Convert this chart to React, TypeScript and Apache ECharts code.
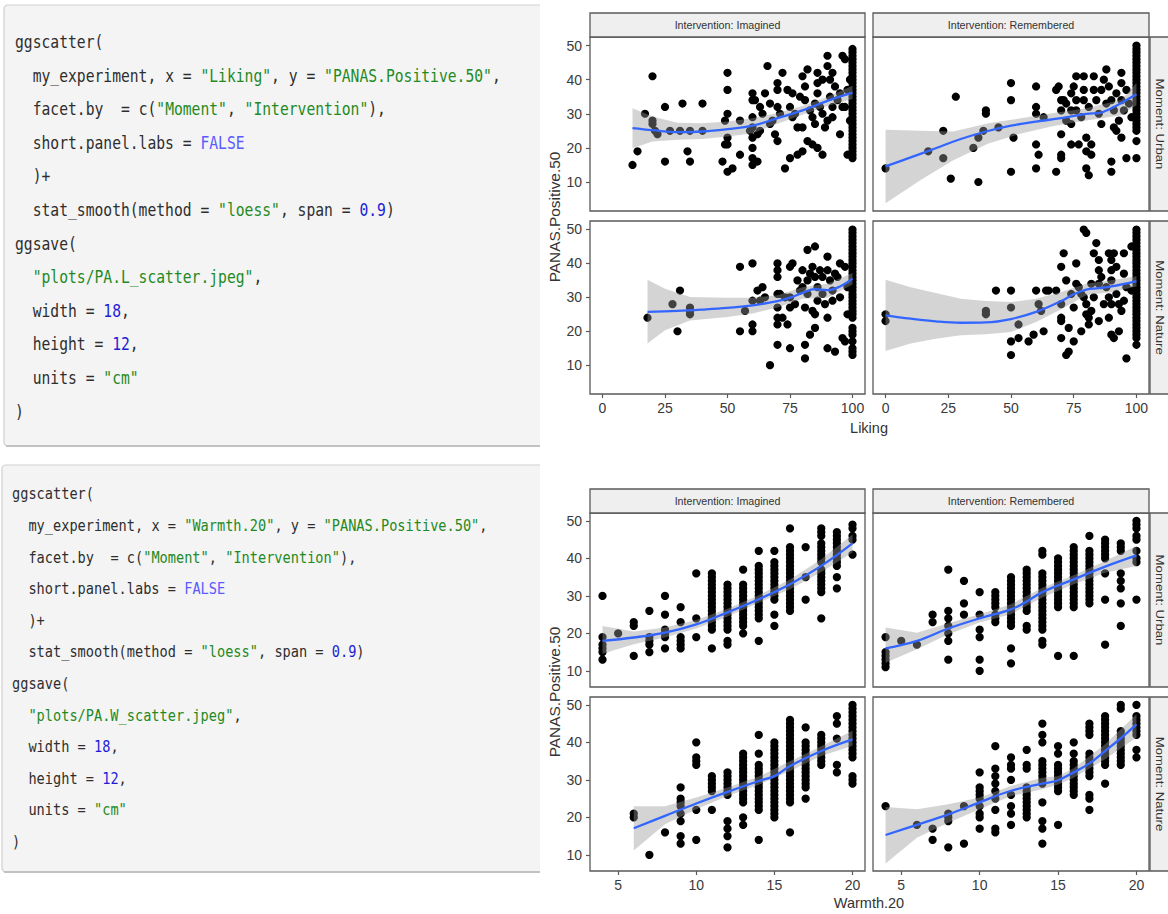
import React, { useEffect, useRef } from "react";
import * as echarts from "echarts";

// ---------- text / ticks ----------
const likingTicks = [0, 25, 50, 75, 100];
const warmthTicks = [5, 10, 15, 20];
const panasTicks = [10, 20, 30, 40, 50];
const interventionLabels = ["Intervention: Imagined", "Intervention: Remembered"];
const momentLabels = ["Moment: Urban", "Moment: Nature"];
const yTitle = "PANAS.Positive.50";

const codeLiking = [
  "ggscatter(",
  '  my_experiment, x = "Liking", y = "PANAS.Positive.50",',
  '  facet.by  = c("Moment", "Intervention"),',
  "  short.panel.labs = FALSE",
  "  )+",
  '  stat_smooth(method = "loess", span = 0.9)',
  "ggsave(",
  '  "plots/PA.L_scatter.jpeg",',
  "  width = 18,",
  "  height = 12,",
  '  units = "cm"',
  ")",
];
const codeWarmth = [
  "ggscatter(",
  '  my_experiment, x = "Warmth.20", y = "PANAS.Positive.50",',
  '  facet.by  = c("Moment", "Intervention"),',
  "  short.panel.labs = FALSE",
  "  )+",
  '  stat_smooth(method = "loess", span = 0.9)',
  "ggsave(",
  '  "plots/PA.W_scatter.jpeg",',
  "  width = 18,",
  "  height = 12,",
  '  units = "cm"',
  ")",
];

// ---------- Liking panels: points ----------
const likeImagUrban: number[][] = [
  [12, 15], [14, 19], [17, 30], [20, 41], [20, 28], [20, 27], [21, 25], [22, 24], [25, 32], [25, 16],
  [27, 25], [31, 25], [32, 33], [34, 19], [35, 16], [35, 25], [40, 33], [40, 25], [48, 16], [49, 28],
  [50, 42], [50, 37], [50, 30], [50, 23], [49, 21], [50, 21], [50, 13], [52, 14], [55, 28], [55, 18],
  [59, 25], [60, 36], [60, 34], [60, 29], [60, 26], [60, 23], [60, 20], [60, 17], [60, 15], [62, 16],
  [61, 34], [63, 25], [63, 32], [62, 24], [64, 30], [66, 44], [65, 36], [67, 33], [67, 27], [68, 28],
  [69, 24], [70, 22], [70, 39], [70, 37], [70, 32], [71, 30], [73, 14], [72, 42], [74, 37], [75, 17],
  [75, 32], [76, 29], [76, 36], [77, 30], [78, 18], [78, 26], [79, 35], [80, 19], [80, 41], [81, 38],
  [81, 34], [80, 26], [82, 22], [82, 43], [83, 31], [84, 21], [84, 29], [85, 27], [85, 33], [86, 42],
  [86, 36], [86, 39], [86, 20], [88, 18], [87, 32], [88, 40], [88, 30], [89, 26], [90, 47], [90, 44],
  [90, 28], [91, 40], [91, 35], [92, 29], [92, 32], [92, 42], [93, 38], [94, 34], [95, 24], [95, 36],
  [96, 47], [96, 32], [97, 46], [97, 32], [98, 18], [98, 37], [99, 40], [99, 28],
];
const likeImagUrbanAt100 = [49, 48, 47, 46, 45, 44, 43, 42, 41, 40, 39, 38, 37, 36, 35, 34, 33, 32, 31, 30, 29, 28, 27, 26, 25, 24, 23, 22, 21, 20, 19, 18, 17];

const likeRemUrban: number[][] = [
  [0, 14], [17, 19], [23, 25], [23, 17], [26, 11], [28, 35], [35, 20], [37, 23], [37, 10], [39, 25],
  [40, 31], [40, 30], [45, 26], [50, 39], [50, 34], [51, 23], [50, 13], [60, 38], [60, 32], [60, 30],
  [60, 21], [61, 18], [60, 14], [63, 29], [68, 37], [69, 38], [68, 13], [70, 34], [70, 31], [70, 24],
  [70, 18], [70, 17], [72, 28], [72, 33], [71, 34], [74, 36], [74, 31], [74, 27], [74, 21], [75, 38],
  [76, 41], [76, 34], [76, 31], [77, 21], [78, 29], [79, 41], [79, 37], [79, 34], [80, 23], [80, 19],
  [80, 14], [81, 12], [81, 32], [82, 21], [83, 41], [82, 18], [83, 37], [84, 34], [85, 30], [86, 37],
  [86, 27], [87, 40], [88, 43], [88, 33], [89, 38], [90, 16], [90, 13], [90, 34], [91, 31], [91, 26],
  [92, 25], [92, 36], [93, 28], [94, 42], [94, 39], [94, 34], [94, 23], [95, 31], [96, 17], [96, 37],
  [97, 33], [98, 29], [100, 17], [100, 22],
];
const likeRemUrbanAt100 = [50, 49, 48, 47, 46, 45, 44, 43, 42, 41, 40, 39, 38, 37, 36, 35, 34, 33, 32, 31, 30, 29, 28, 27, 26, 25];

const likeImagNature: number[][] = [
  [18, 24], [28, 28], [31, 32], [30, 20], [35, 27], [35, 26], [35, 25], [55, 39], [55, 20], [57, 26],
  [60, 40], [60, 29], [60, 22], [60, 20], [62, 32], [64, 33], [63, 29], [65, 30], [67, 10], [70, 40],
  [70, 38], [70, 36], [70, 31], [70, 27], [70, 24], [70, 22], [70, 16], [71, 31], [72, 24], [73, 30],
  [74, 22], [75, 39], [76, 40], [75, 15], [75, 30], [75, 27], [77, 28], [78, 35], [79, 32], [80, 38],
  [80, 33], [81, 12], [81, 16], [81, 27], [82, 35], [82, 44], [82, 31], [83, 19], [83, 37], [84, 39],
  [84, 26], [85, 36], [85, 45], [85, 21], [85, 25], [86, 29], [86, 33], [87, 38], [88, 36], [88, 31],
  [89, 28], [90, 42], [90, 15], [90, 38], [90, 24], [91, 35], [92, 32], [92, 29], [93, 14], [93, 37],
  [94, 36], [95, 40], [95, 30], [96, 18], [97, 17], [97, 39], [98, 33], [98, 25],
];
const likeImagNatureAt100 = [50, 49, 48, 47, 46, 45, 44, 43, 42, 41, 40, 39, 38, 37, 36, 35, 34, 33, 32, 31, 30, 29, 28, 27, 26, 25, 24, 21, 20, 19, 17, 15, 14, 13];

const likeRemNature: number[][] = [
  [0, 25], [0, 23], [40, 26], [40, 25], [44, 32], [50, 32], [50, 27], [50, 17], [50, 13], [53, 22],
  [53, 18], [57, 17], [59, 19], [60, 32], [61, 28], [62, 26], [63, 20], [64, 32], [65, 32], [68, 32],
  [70, 39], [70, 28], [70, 24], [70, 23], [70, 18], [71, 43], [72, 13], [72, 35], [73, 14], [73, 21],
  [74, 31], [75, 17], [75, 27], [76, 40], [76, 34], [77, 33], [78, 20], [78, 31], [79, 50], [80, 49],
  [79, 30], [80, 28], [80, 25], [81, 22], [81, 24], [82, 26], [82, 34], [83, 43], [83, 30], [84, 46],
  [85, 41], [85, 38], [85, 23], [85, 34], [86, 36], [87, 28], [88, 33], [89, 43], [90, 41], [90, 38],
  [90, 35], [89, 30], [90, 28], [89, 24], [90, 19], [91, 18], [91, 43], [92, 31], [92, 39], [93, 28],
  [94, 26], [93, 20], [95, 43], [95, 37], [95, 29], [96, 12], [96, 33], [98, 45], [98, 32],
];
const likeRemNatureAt100 = [50, 49, 48, 47, 46, 45, 44, 43, 42, 41, 40, 39, 38, 37, 36, 35, 34, 33, 32, 31, 30, 29, 28, 27, 26, 25, 24, 23, 22, 21, 20, 19, 18, 16];

// ---------- Warmth panels: points by column [x, ys] ----------
const warmImagUrban: [number, number[]][] = [
  [4, [30, 19, 17, 16, 15, 13]], [5, [20]], [6, [23, 22, 14]], [7, [26, 19, 18, 17, 15]],
  [8, [30, 25, 21, 20, 19, 16]], [9, [27, 23, 19, 18, 17, 16]], [10, [36, 24, 19]],
  [11, [36, 35, 34, 33, 32, 31, 30, 29, 28, 27, 26, 25, 24, 23, 22, 21, 16]],
  [12, [33, 32, 31, 30, 29, 28, 27, 26, 25, 24, 23, 22, 21, 18, 17]],
  [13, [37, 33, 32, 31, 30, 29, 28, 27, 26, 25, 24, 23, 22, 20]],
  [14, [42, 38, 37, 36, 35, 34, 33, 32, 31, 30, 29, 28, 27, 26, 25, 24, 18]],
  [15, [42, 39, 38, 37, 36, 35, 34, 33, 32, 31, 30, 29, 25, 22]],
  [16, [48, 43, 42, 41, 40, 39, 38, 37, 36, 35, 34, 33, 32, 31, 30, 29, 28, 27, 26]],
  [17, [43, 35, 29]],
  [18, [48, 47, 46, 44, 43, 42, 41, 40, 39, 37, 36, 35, 34, 33, 32, 31, 24]],
  [19, [47, 46, 45, 44, 43, 42, 41, 40, 39, 38, 35, 32]],
  [20, [49, 48, 46, 45, 41]],
];
const warmRemUrban: [number, number[]][] = [
  [4, [19, 15, 14, 13, 12, 11]], [5, [18]], [6, [17]], [7, [25, 23]],
  [8, [37, 26, 24, 22, 20, 18, 13]], [9, [34, 28, 25]], [10, [31, 25, 21, 19, 13, 10]],
  [11, [31, 30, 29, 28, 27, 25, 24, 23]],
  [12, [35, 34, 33, 32, 31, 30, 29, 28, 27, 26, 25, 24, 23, 22, 16, 12]],
  [13, [37, 36, 35, 34, 33, 32, 31, 30, 29, 28, 27, 26, 22, 21]],
  [14, [42, 41, 36, 35, 34, 33, 32, 31, 30, 29, 28, 27, 26, 25, 24, 23, 22, 21, 18, 17]],
  [15, [40, 39, 38, 37, 36, 35, 34, 33, 32, 31, 30, 29, 28, 27, 14]],
  [16, [43, 42, 41, 40, 39, 38, 37, 36, 35, 34, 33, 32, 31, 30, 29, 28, 27, 14]],
  [17, [46, 42, 41, 40, 39, 38, 37, 36, 35, 34, 33, 32, 31, 30, 29, 28]],
  [18, [45, 44, 43, 42, 41, 40, 36, 29, 17]],
  [19, [44, 43, 42, 36, 34, 32, 28, 22]],
  [20, [50, 49, 48, 46, 45, 42, 40, 39, 29]],
];
const warmImagNature: [number, number[]][] = [
  [6, [21, 20]], [7, [10]], [8, [16]], [9, [28, 25, 24, 23, 21, 19, 15, 13]],
  [10, [40, 36, 35, 34, 22, 14]], [11, [31, 30, 29, 28, 27, 22]],
  [12, [32, 31, 30, 29, 28, 27, 26, 19, 17, 15, 12]],
  [13, [37, 36, 35, 34, 33, 32, 31, 30, 29, 28, 27, 26, 25, 24, 20, 18]],
  [14, [42, 37, 34, 33, 32, 31, 30, 29, 28, 27, 26, 25, 24, 23, 22, 14]],
  [15, [40, 39, 38, 37, 36, 35, 34, 33, 32, 31, 30, 29, 28, 27, 26, 25, 24, 23, 22, 21, 20]],
  [16, [46, 45, 44, 43, 42, 41, 40, 39, 38, 37, 36, 35, 34, 33, 32, 31, 30, 29, 28, 27, 26, 25, 24, 16]],
  [17, [44, 40, 39, 38, 37, 36, 35, 34, 33, 32, 31, 30, 29, 28, 25]],
  [18, [42, 41, 40, 39, 38, 37, 36, 35, 34]],
  [19, [47, 45, 41, 34, 32]],
  [20, [50, 49, 48, 47, 46, 45, 44, 43, 42, 41, 40, 39, 38, 37, 36, 31, 30, 29]],
];
const warmRemNature: [number, number[]][] = [
  [4, [23]], [6, [18]], [7, [17, 14]], [8, [21, 20, 19, 12]], [9, [23, 13]],
  [10, [32, 28, 27, 26, 25, 23, 21, 20, 17]],
  [11, [39, 33, 31, 29, 27, 25, 22, 17, 16]],
  [12, [36, 34, 33, 30, 26, 23, 21, 18]],
  [13, [38, 34, 33, 28, 27, 26, 25, 24, 23, 22, 21, 20]],
  [14, [45, 42, 40, 35, 34, 33, 32, 31, 30, 29, 24, 19, 17, 13]],
  [15, [39, 37, 34, 33, 32, 31, 30, 29, 28, 27, 18]],
  [16, [40, 37, 35, 34, 33, 32, 31, 30, 29, 28, 27, 26]],
  [17, [45, 44, 43, 42, 37, 36, 35, 34, 33, 32, 31, 26, 25, 22]],
  [18, [47, 46, 45, 44, 43, 42, 41, 40, 39, 38, 37, 36, 35, 34, 29]],
  [19, [50, 49, 43, 42, 41, 40, 39, 38, 37, 36, 35, 34]],
  [20, [50, 47, 46, 45, 44, 43, 42, 38, 36]],
];

// ---------- loess fits and confidence bands ----------
const fitLikeImagUrbanX = [12, 20, 30, 40, 50, 60, 70, 80, 90, 100];
const fitLikeImagUrbanY = [25.8, 25.2, 24.6, 24.8, 25.5, 26.5, 28.7, 31, 33.8, 36.2];
const bandLikeImagUrbanX = [12, 20, 30, 40, 50, 60, 70, 80, 90, 100];
const bandLikeImagUrbanLo = [19.9, 21.9, 22.4, 22.6, 23.3, 24.3, 27.1, 29.7, 32.3, 34.3];
const bandLikeImagUrbanHi = [31.6, 29.2, 27.4, 27.2, 27.7, 28.7, 30.2, 32.3, 35, 38.2];

const fitLikeRemUrbanX = [0, 10, 20, 30, 40, 50, 60, 70, 80, 85, 90, 95, 100];
const fitLikeRemUrbanY = [14.6, 17.2, 19.9, 22.6, 24.8, 26.5, 27.7, 28.7, 30, 30.2, 31.6, 33.6, 35.7];
const bandLikeRemUrbanX = [0, 14, 27, 41, 54, 67, 80, 94, 100];
const bandLikeRemUrbanLo = [3.8, 10.6, 16.4, 21.3, 24.2, 26.4, 28, 29.6, 32.5];
const bandLikeRemUrbanHi = [25.3, 25, 24.8, 27.2, 28.7, 30.2, 31.6, 34.1, 39];

const fitLikeImagNatureX = [18, 30, 40, 50, 60, 70, 75, 80, 85, 90, 95, 100];
const fitLikeImagNatureY = [25.7, 26, 26.4, 26.9, 27.6, 28.9, 29.9, 31.3, 32.4, 32.1, 33.2, 35.5];
const bandLikeImagNatureX = [18, 25, 35, 50, 60, 70, 80, 90, 100];
const bandLikeImagNatureLo = [16.4, 20.3, 23.2, 24.2, 25.2, 27, 29.6, 29.9, 33.8];
const bandLikeImagNatureHi = [35.2, 32.5, 30.1, 29.9, 29.9, 30.6, 33, 34, 37.2];

const fitLikeRemNatureX = [0, 10, 20, 30, 40, 50, 60, 70, 75, 80, 85, 90, 100];
const fitLikeRemNatureY = [24.7, 23.7, 22.9, 22.5, 22.6, 23.6, 25.7, 28.9, 30.9, 32.3, 32.7, 33.2, 34.8];
const bandLikeRemNatureX = [0, 10, 20, 30, 40, 50, 60, 70, 80, 90, 100];
const bandLikeRemNatureLo = [14.2, 16.4, 17.8, 18.8, 19.1, 19.8, 22.7, 26.5, 30.6, 31.6, 33.2];
const bandLikeRemNatureHi = [35.2, 33, 31.3, 29.6, 28.9, 28.6, 29.6, 31.6, 34, 35, 36.2];

const fitWarmImagUrbanX = [4, 6, 8, 10, 12, 14, 16, 18, 20];
const fitWarmImagUrbanY = [18, 18.9, 20.2, 22.4, 25.6, 29.1, 33.1, 38, 44];
const bandWarmImagUrbanX = [4, 6, 8, 10, 12, 14, 16, 18, 20];
const bandWarmImagUrbanLo = [14.6, 17.1, 18.9, 21.3, 24.5, 28.2, 31.8, 36.4, 41.6];
const bandWarmImagUrbanHi = [22, 20.5, 21.6, 23.6, 26.6, 30.2, 34.4, 39.8, 46.4];

const fitWarmRemUrbanX = [4, 6, 8, 10, 12, 13, 14, 16, 18, 20];
const fitWarmRemUrbanY = [16, 18, 21.3, 24, 26.4, 28.5, 31, 34.4, 37.8, 40.8];
const bandWarmRemUrbanX = [4, 6, 8, 10, 12, 14, 16, 18, 20];
const bandWarmRemUrbanLo = [12.2, 15.8, 19.8, 22.9, 25.1, 29.6, 33.1, 36.2, 38];
const bandWarmRemUrbanHi = [21.6, 20.2, 22.7, 25.1, 27.8, 32.2, 35.5, 39.3, 43.3];

const fitWarmImagNatureX = [6, 8, 10, 12, 14, 15, 16, 18, 20];
const fitWarmImagNatureY = [17.1, 20.4, 23.7, 26.8, 29.7, 31, 33.7, 37.7, 40.8];
const bandWarmImagNatureX = [6, 8, 10, 12, 14, 16, 18, 20];
const bandWarmImagNatureLo = [11.2, 18.2, 22.2, 25.7, 28.7, 32.4, 36.4, 39.1];
const bandWarmImagNatureHi = [23, 23, 25.3, 28, 30.9, 35, 39, 43.1];

const fitWarmRemNatureX = [4, 6, 8, 10, 12, 14, 15, 16, 17, 18, 19, 20];
const fitWarmRemNatureY = [15.3, 18, 20.8, 24, 27.1, 29, 29.9, 32, 34.4, 37.7, 41.1, 44.8];
const bandWarmRemNatureX = [4, 6, 8, 10, 12, 14, 15, 16, 18, 20];
const bandWarmRemNatureLo = [7.7, 14.6, 18.6, 22.2, 25.7, 27.5, 28.8, 30.6, 35.5, 41.3];
const bandWarmRemNatureHi = [22.8, 22.2, 23.5, 25.3, 28.4, 30.6, 31, 33.1, 39.5, 47.5];

// ---------- helpers ----------
const withColumn = (pts: number[][], x: number, ys: number[]) => pts.concat(ys.map((y) => [x, y]));
const fromColumns = (cols: [number, number[]][]) => cols.flatMap(([x, ys]) => ys.map((y) => [x, y]));
const zip = (xs: number[], ys: number[]) => xs.map((x, i) => [x, ys[i]]);

type Panel = {
  points: number[][];
  fitX: number[]; fitY: number[];
  bandX: number[]; bandLo: number[]; bandHi: number[];
};

const likingPanels: Panel[] = [
  { points: withColumn(likeImagUrban, 100, likeImagUrbanAt100), fitX: fitLikeImagUrbanX, fitY: fitLikeImagUrbanY, bandX: bandLikeImagUrbanX, bandLo: bandLikeImagUrbanLo, bandHi: bandLikeImagUrbanHi },
  { points: withColumn(likeRemUrban, 100, likeRemUrbanAt100), fitX: fitLikeRemUrbanX, fitY: fitLikeRemUrbanY, bandX: bandLikeRemUrbanX, bandLo: bandLikeRemUrbanLo, bandHi: bandLikeRemUrbanHi },
  { points: withColumn(likeImagNature, 100, likeImagNatureAt100), fitX: fitLikeImagNatureX, fitY: fitLikeImagNatureY, bandX: bandLikeImagNatureX, bandLo: bandLikeImagNatureLo, bandHi: bandLikeImagNatureHi },
  { points: withColumn(likeRemNature, 100, likeRemNatureAt100), fitX: fitLikeRemNatureX, fitY: fitLikeRemNatureY, bandX: bandLikeRemNatureX, bandLo: bandLikeRemNatureLo, bandHi: bandLikeRemNatureHi },
];
const warmthPanels: Panel[] = [
  { points: fromColumns(warmImagUrban), fitX: fitWarmImagUrbanX, fitY: fitWarmImagUrbanY, bandX: bandWarmImagUrbanX, bandLo: bandWarmImagUrbanLo, bandHi: bandWarmImagUrbanHi },
  { points: fromColumns(warmRemUrban), fitX: fitWarmRemUrbanX, fitY: fitWarmRemUrbanY, bandX: bandWarmRemUrbanX, bandLo: bandWarmRemUrbanLo, bandHi: bandWarmRemUrbanHi },
  { points: fromColumns(warmImagNature), fitX: fitWarmImagNatureX, fitY: fitWarmImagNatureY, bandX: bandWarmImagNatureX, bandLo: bandWarmImagNatureLo, bandHi: bandWarmImagNatureHi },
  { points: fromColumns(warmRemNature), fitX: fitWarmRemNatureX, fitY: fitWarmRemNatureY, bandX: bandWarmRemNatureX, bandLo: bandWarmRemNatureLo, bandHi: bandWarmRemNatureHi },
];

// ---------- layout / style ----------
const SANS = '"Liberation Sans", Arial, sans-serif';
const MONO = '"DejaVu Sans Mono", monospace';
const BORDER = "#5a5a5a";
const TXT = "#3a3a3a";
const COL_LEFT = [590, 873];
const COL_W = [275, 276];

const figures = [
  { panels: likingPanels, rowTop: [37, 221], rowH: [174, 173], stripTop: 13, xMin: -5, xMax: 105, yMin: 1.5, yMax: 52.5, xTicks: likingTicks, xTitle: "Liking", xTitleY: 428, yTitleY: 217 },
  { panels: warmthPanels, rowTop: [513, 697], rowH: [174, 174], stripTop: 489, xMin: 3.2, xMax: 20.8, yMin: 5.7, yMax: 52.1, xTicks: warmthTicks, xTitle: "Warmth.20", xTitleY: 903, yTitleY: 692 },
];

const codeBlocks = [
  { lines: codeLiking, box: { x: 4, y: 5, w: 546, h: 441 }, x0: 15, y0: 42, step: 33.6, fs: 14.67 },
  { lines: codeWarmth, box: { x: 2, y: 465, w: 548, h: 407 }, x0: 12, y0: 494, step: 31.6, fs: 13.62 },
];
const CODE_COLORS: Record<string, string> = { plain: "#2e2e2e", str: "#1f8a1f", num: "#1c1cd6", bool: "#5a5aff" };

function tokenize(line: string) {
  const out: { col: number; text: string; kind: string }[] = [];
  let i = 0;
  while (i < line.length) {
    const ch = line[i];
    if (ch === " ") { i++; continue; }
    if (ch === '"') {
      const j = line.indexOf('"', i + 1);
      out.push({ col: i, text: line.slice(i, j + 1), kind: "str" });
      i = j + 1;
      continue;
    }
    if (line.startsWith("FALSE", i)) { out.push({ col: i, text: "FALSE", kind: "bool" }); i += 5; continue; }
    if (/[0-9]/.test(ch)) {
      let j = i;
      while (j < line.length && /[0-9.]/.test(line[j])) j++;
      out.push({ col: i, text: line.slice(i, j), kind: "num" });
      i = j;
      continue;
    }
    let j = i;
    while (j < line.length && line[j] !== " " && line[j] !== '"' && !/[0-9]/.test(line[j])) j++;
    out.push({ col: i, text: line.slice(i, j), kind: "plain" });
    i = j;
  }
  return out;
}

function txt(x: number, y: number, text: string, o: any = {}) {
  return {
    type: "text", x, y, silent: true,
    rotation: o.rotation || 0, scaleX: o.scaleX || 1, scaleY: o.scaleY || 1, z: o.z || 10,
    style: {
      text, fill: o.fill || TXT, fontSize: o.fontSize || 14, fontFamily: o.fontFamily || SANS,
      textAlign: o.align || "center", align: o.align || "center",
      textVerticalAlign: "middle", verticalAlign: "middle",
    },
  };
}

function buildOption() {
  const grid: any[] = [];
  const xAxis: any[] = [];
  const yAxis: any[] = [];
  const series: any[] = [];
  const graphic: any[] = [];

  // code blocks
  codeBlocks.forEach((cb) => {
    graphic.push({ type: "rect", silent: true, z: 1, shape: { x: cb.box.x, y: cb.box.y, width: cb.box.w, height: cb.box.h, r: 4 }, style: { fill: "#f4f4f4", stroke: "#cfcfcf", lineWidth: 1.2 } });
    graphic.push({ type: "line", silent: true, z: 1, shape: { x1: cb.box.x + 2, y1: cb.box.y + cb.box.h, x2: cb.box.x + cb.box.w, y2: cb.box.y + cb.box.h }, style: { stroke: "#c2c2c2", lineWidth: 2 } });
    const cw = cb.fs * 0.602;
    cb.lines.forEach((line, li) => {
      tokenize(line).forEach((t) => {
        graphic.push(txt(cb.x0 + t.col * cw, cb.y0 + li * cb.step, t.text, { align: "left", fontSize: cb.fs, fontFamily: MONO, fill: CODE_COLORS[t.kind], scaleY: 1.22 }));
      });
    });
  });
  // cover the right edge of the code boxes where the plot image starts
  graphic.push({ type: "rect", silent: true, z: 2, shape: { x: 540, y: 0, width: 14, height: 914 }, style: { fill: "#ffffff" } });

  figures.forEach((fig) => {
    for (let r = 0; r < 2; r++) {
      for (let c = 0; c < 2; c++) {
        const idx = grid.length;
        const p = fig.panels[r * 2 + c];
        grid.push({ left: COL_LEFT[c], top: fig.rowTop[r], width: COL_W[c], height: fig.rowH[r], show: true, borderColor: BORDER, borderWidth: 1.3, backgroundColor: "#ffffff" });
        xAxis.push({
          type: "value", gridIndex: idx, min: fig.xMin, max: fig.xMax, z: 5,
          axisLine: { show: false, onZero: false }, splitLine: { show: false },
          axisTick: { show: r === 1, customValues: fig.xTicks, length: 4, lineStyle: { color: BORDER, width: 1.2 } },
          axisLabel: { show: r === 1, customValues: fig.xTicks, margin: 7, color: TXT, fontSize: 14, fontFamily: SANS },
        });
        yAxis.push({
          type: "value", gridIndex: idx, min: fig.yMin, max: fig.yMax, z: 5,
          axisLine: { show: false, onZero: false }, splitLine: { show: false },
          axisTick: { show: c === 0, customValues: panasTicks, length: 4, lineStyle: { color: BORDER, width: 1.2 } },
          axisLabel: { show: c === 0, customValues: panasTicks, margin: 8, color: TXT, fontSize: 14, fontFamily: SANS },
        });
        series.push({ type: "scatter", xAxisIndex: idx, yAxisIndex: idx, data: p.points, symbolSize: 8.2, itemStyle: { color: "#000000", opacity: 1 }, z: 4, silent: true });
        const bx = p.bandX, lo = p.bandLo, hi = p.bandHi;
        series.push({
          type: "custom", xAxisIndex: idx, yAxisIndex: idx, data: [[bx[0], lo[0]]], z: 5, silent: true,
          renderItem: (params: any, api: any) => {
            const up = bx.map((x, i) => api.coord([x, hi[i]]));
            const dn = bx.map((x, i) => api.coord([x, lo[i]])).reverse();
            return { type: "polygon", shape: { points: up.concat(dn) }, style: { fill: "rgba(153,153,153,0.42)", stroke: "none" } };
          },
        });
        series.push({ type: "line", xAxisIndex: idx, yAxisIndex: idx, data: zip(p.fitX, p.fitY), showSymbol: false, smooth: 0.4, lineStyle: { color: "#3366FF", width: 2.3 }, z: 6, silent: true });
      }
    }
    // column strips
    for (let c = 0; c < 2; c++) {
      graphic.push({ type: "rect", silent: true, z: 8, shape: { x: COL_LEFT[c], y: fig.stripTop, width: COL_W[c], height: fig.rowTop[0] - fig.stripTop }, style: { fill: "#efefef", stroke: BORDER, lineWidth: 1.3 } });
      graphic.push(txt(COL_LEFT[c] + COL_W[c] / 2, (fig.stripTop + fig.rowTop[0]) / 2, interventionLabels[c], { fontSize: 10.7, fill: "#333333" }));
    }
    // row strips
    for (let r = 0; r < 2; r++) {
      graphic.push({ type: "rect", silent: true, z: 8, shape: { x: 1150, y: fig.rowTop[r], width: 30, height: fig.rowH[r] }, style: { fill: "#efefef", stroke: BORDER, lineWidth: 1.3 } });
      graphic.push(txt(1160, fig.rowTop[r] + fig.rowH[r] / 2, momentLabels[r], { fontSize: 11, scaleX: 1.2, rotation: -Math.PI / 2, fill: "#333333" }));
    }
    graphic.push(txt(869, fig.xTitleY, fig.xTitle, { fontSize: 14.5, fill: "#333333" }));
    graphic.push(txt(555, fig.yTitleY, yTitle, { fontSize: 14, scaleX: 1.1, rotation: Math.PI / 2, fill: "#333333" }));
  });

  return { animation: false, backgroundColor: "#ffffff", grid, xAxis, yAxis, series, graphic: { elements: graphic } };
}

export default function App() {
  const ref = useRef<HTMLDivElement>(null);
  useEffect(() => {
    if (!ref.current) return;
    const chart = echarts.init(ref.current, undefined, { renderer: "svg" });
    chart.setOption(buildOption() as any);
    return () => chart.dispose();
  }, []);
  return <div ref={ref} style={{ position: "absolute", left: 0, top: 0, width: 1168, height: 914, background: "#ffffff" }} />;
}
